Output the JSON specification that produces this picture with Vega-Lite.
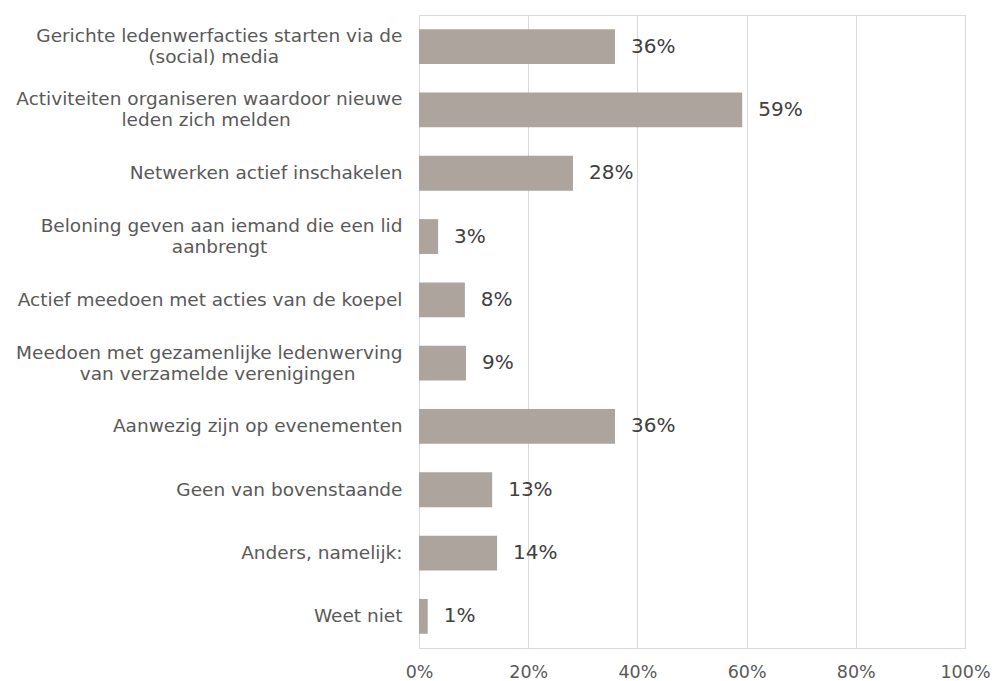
{
  "$schema": "https://vega.github.io/schema/vega-lite/v6.json",
  "autosize": "none",
  "width": 546,
  "height": 633,
  "padding": {"left": 419, "top": 15, "right": 32, "bottom": 33},
  "background": "white",
  "config": {
    "font": "DejaVu Sans",
    "view": {"stroke": "#d9d9d9", "strokeWidth": 1}
  },
  "data": {
    "values": [
      {"categorie": "Gerichte ledenwerfacties starten via de\n(social) media", "aandeel": 0.359, "label": "36%"},
      {"categorie": "Activiteiten organiseren waardoor nieuwe\nleden zich melden", "aandeel": 0.592, "label": "59%"},
      {"categorie": "Netwerken actief inschakelen", "aandeel": 0.282, "label": "28%"},
      {"categorie": "Beloning geven aan iemand die een lid\naanbrengt", "aandeel": 0.035, "label": "3%"},
      {"categorie": "Actief meedoen met acties van de koepel", "aandeel": 0.084, "label": "8%"},
      {"categorie": "Meedoen met gezamenlijke ledenwerving\nvan verzamelde verenigingen", "aandeel": 0.086, "label": "9%"},
      {"categorie": "Aanwezig zijn op evenementen", "aandeel": 0.359, "label": "36%"},
      {"categorie": "Geen van bovenstaande", "aandeel": 0.134, "label": "13%"},
      {"categorie": "Anders, namelijk:", "aandeel": 0.143, "label": "14%"},
      {"categorie": "Weet niet", "aandeel": 0.016, "label": "1%"}
    ]
  },
  "encoding": {
    "y": {
      "field": "categorie",
      "type": "nominal",
      "sort": null,
      "scale": {"paddingInner": 0.45, "paddingOuter": 0.225},
      "axis": {
        "title": null,
        "ticks": false,
        "domain": false,
        "labelPadding": 17,
        "labelFontSize": 18.5,
        "labelColor": "#595959",
        "labelLimit": 420,
        "labelLineHeight": 21,
        "labelOffset": {"condition": {"test": "indexof(datum.value, '\\n') >= 0", "value": -10.5}, "value": 0},
        "labelExpr": "length(split(datum.label,'\\n'))<2 ? datum.label : [split(datum.label,'\\n')[0], split(datum.label,'\\n')[1] + substring('\u00a0\u00a0\u00a0\u00a0\u00a0\u00a0\u00a0\u00a0\u00a0\u00a0\u00a0\u00a0\u00a0\u00a0\u00a0\u00a0\u00a0\u00a0\u00a0\u00a0\u00a0\u00a0\u00a0\u00a0\u00a0\u00a0\u00a0\u00a0\u00a0\u00a0', 0, round((length(split(datum.label,'\\n')[0])-length(split(datum.label,'\\n')[1]))*0.83)) + '\u200b']"
      }
    },
    "x": {
      "field": "aandeel",
      "type": "quantitative",
      "scale": {"domain": [0, 1], "nice": false},
      "axis": {
        "title": null,
        "format": ".0%",
        "values": [0, 0.2, 0.4, 0.6, 0.8, 1],
        "ticks": false,
        "domain": false,
        "grid": true,
        "gridColor": "#d9d9d9",
        "labelPadding": 15,
        "labelFontSize": 17.5,
        "labelColor": "#595959",
        "labelFlush": false
      }
    }
  },
  "layer": [
    {"mark": {"type": "bar", "color": "#aca49d"}},
    {
      "mark": {"type": "text", "align": "left", "dx": 16, "fontSize": 20, "color": "#404040"},
      "encoding": {"text": {"field": "label"}}
    }
  ]
}
